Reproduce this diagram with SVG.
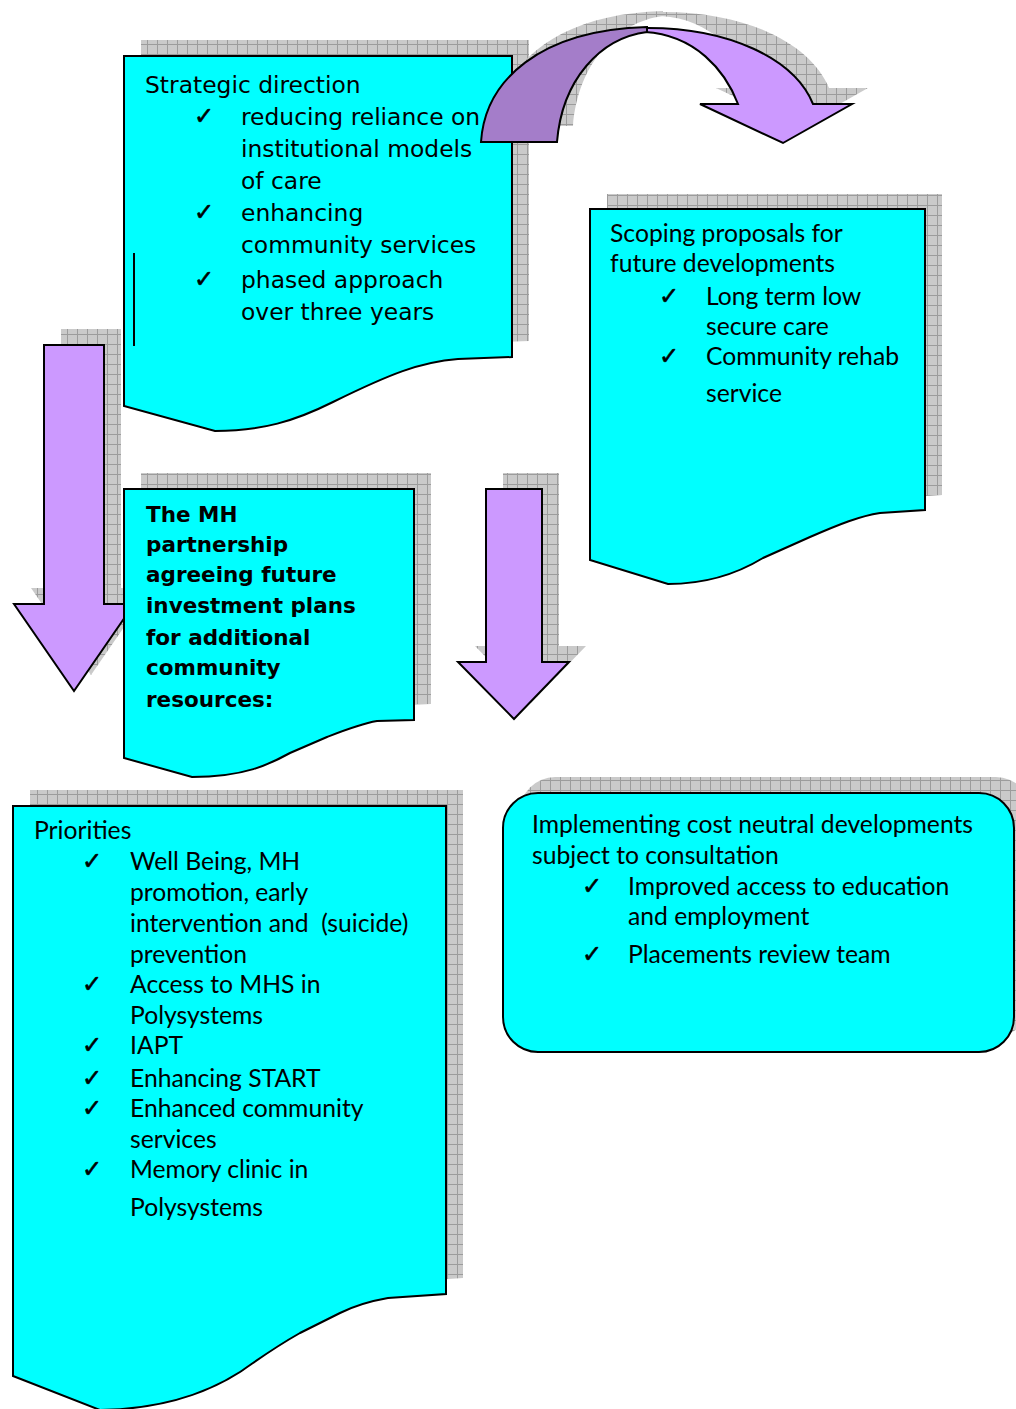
<svg xmlns="http://www.w3.org/2000/svg" xmlns:xlink="http://www.w3.org/1999/xlink" width="1016" height="1409" viewBox="0 0 1016 1409">
<defs>
  <pattern id="grid" patternUnits="userSpaceOnUse" width="10" height="10">
    <rect width="10" height="10" fill="#cacaca"/>
    <path d="M0,0.5 H10 M0.5,0 V10" stroke="#9c9c9c" stroke-width="1" fill="none"/>
  </pattern>
  <style>
    .box { fill: #00FFFF; stroke: #000; stroke-width: 2; stroke-linejoin: miter; }
    .shadow { fill: url(#grid); stroke: none; }
    .arrow { fill: #CC99FF; stroke: #000; stroke-width: 2; stroke-linejoin: miter; }
    .arrowDark { fill: #A47DC9; stroke: #000; stroke-width: 2; }
    .t1 { font-family: "DejaVu Sans", Verdana, sans-serif; font-size: 23.4px; fill: #000; }
    .tb { font-family: "DejaVu Sans", Verdana, sans-serif; font-size: 21.5px; font-weight: bold; fill: #000; }
    .tg { font-family: Lato, "Liberation Sans", sans-serif; font-size: 24.7px; fill: #000; }
    .ck { font-family: "DejaVu Sans", sans-serif; font-size: 24px; fill: #000; stroke: #000; stroke-width: 0.6; }
  </style>
  <path id="p-box1" d="M124,56 H512 V357 L458,359 C420,362 390,374 333,402 C295,421 262,431 215,431 L124,406 Z"/>
  <path id="p-box2" d="M590,209 H925 V510 L880,513 C860,516 840,524 810,537 L763,558 C740,572 710,584 668,584 L590,560 Z"/>
  <path id="p-box3" d="M124,489 H414 V720 L377,721 C360,724 345,730 327,737 L290,753 C270,764 245,777 192,777 L124,758 Z"/>
  <path id="p-box4" d="M13,806 H446 V1294 L388,1298 C365,1302 350,1308 340,1313 L300,1333 C270,1350 255,1362 240,1372 C215,1388 170,1409 100,1410 L13,1376 Z"/>
  <path id="p-arrow1" d="M44,345 H104 V604 H134 L74,691 L14,604 H44 Z"/>
  <path id="p-arrow2" d="M486,489 H542 V662 H569 L514,719 L458,662 H486 Z"/>
  <path id="p-curveLight" d="M640,28 C730,26 795,60 813,104 L852,104 L783,143 L700,104 L738,104 C725,70 695,35 645,32 Z"/>
  <path id="p-curveDark" d="M481,142 C485,80 540,30 647,27 L647,32 C600,38 562,80 557,142 Z"/>
</defs>

<g id="node-strategic">
  <use xlink:href="#p-box1" class="shadow" transform="translate(17,-16)"/>
  <use xlink:href="#p-box1" class="box"/>
  <line x1="134" y1="253" x2="134" y2="346" stroke="#000" stroke-width="2"/>
  <text class="t1" x="145" y="93">Strategic direction</text>
  <text class="ck" x="194" y="124">✓</text>
  <text class="t1" x="241" y="125">reducing reliance on</text>
  <text class="t1" x="241" y="157">institutional models</text>
  <text class="t1" x="241" y="189">of care</text>
  <text class="ck" x="194" y="220">✓</text>
  <text class="t1" x="241" y="221">enhancing</text>
  <text class="t1" x="241" y="253">community services</text>
  <text class="ck" x="194" y="287">✓</text>
  <text class="t1" x="241" y="288">phased approach</text>
  <text class="t1" x="241" y="320">over three years</text>
</g>

<g id="connectors">
  <g id="curved-arrow">
    <g transform="translate(16,-16)">
      <use xlink:href="#p-curveLight" class="shadow"/>
      <use xlink:href="#p-curveDark" class="shadow"/>
    </g>
    <use xlink:href="#p-curveLight" class="arrow"/>
    <use xlink:href="#p-curveDark" class="arrowDark"/>
  </g>
  <g id="arrow-left">
    <use xlink:href="#p-arrow1" class="shadow" transform="translate(17,-16)"/>
    <use xlink:href="#p-arrow1" class="arrow"/>
  </g>
  <g id="arrow-middle">
    <use xlink:href="#p-arrow2" class="shadow" transform="translate(17,-16)"/>
    <use xlink:href="#p-arrow2" class="arrow"/>
  </g>
</g>

<g id="node-scoping">
  <use xlink:href="#p-box2" class="shadow" transform="translate(17,-15)"/>
  <use xlink:href="#p-box2" class="box"/>
  <text class="tg" x="610" y="242">Scoping proposals for</text>
  <text class="tg" x="610" y="272">future developments</text>
  <text class="ck" x="659" y="304">✓</text>
  <text class="tg" x="706" y="305">Long term low</text>
  <text class="tg" x="706" y="335">secure care</text>
  <text class="ck" x="659" y="364">✓</text>
  <text class="tg" x="706" y="365">Community rehab</text>
  <text class="tg" x="706" y="402">service</text>
</g>

<g id="node-partnership">
  <use xlink:href="#p-box3" class="shadow" transform="translate(17,-16)"/>
  <use xlink:href="#p-box3" class="box"/>
  <text class="tb" x="146" y="522">The MH</text>
  <text class="tb" x="146" y="552">partnership</text>
  <text class="tb" x="146" y="582">agreeing future</text>
  <text class="tb" x="146" y="613">investment plans</text>
  <text class="tb" x="146" y="645">for additional</text>
  <text class="tb" x="146" y="675">community</text>
  <text class="tb" x="146" y="707">resources:</text>
</g>

<g id="node-priorities">
  <use xlink:href="#p-box4" class="shadow" transform="translate(17,-16)"/>
  <use xlink:href="#p-box4" class="box"/>
  <text class="tg" x="34" y="839">Priorities</text>
  <text class="ck" x="82" y="869">✓</text>
  <text class="tg" x="130" y="870">Well Being, MH</text>
  <text class="tg" x="130" y="901">promotion, early</text>
  <text class="tg" x="130" y="932" xml:space="preserve">intervention and  (suicide)</text>
  <text class="tg" x="130" y="963">prevention</text>
  <text class="ck" x="82" y="992">✓</text>
  <text class="tg" x="130" y="993">Access to MHS in</text>
  <text class="tg" x="130" y="1024">Polysystems</text>
  <text class="ck" x="82" y="1053">✓</text>
  <text class="tg" x="130" y="1054">IAPT</text>
  <text class="ck" x="82" y="1086">✓</text>
  <text class="tg" x="130" y="1087">Enhancing START</text>
  <text class="ck" x="82" y="1116">✓</text>
  <text class="tg" x="130" y="1117">Enhanced community</text>
  <text class="tg" x="130" y="1148">services</text>
  <text class="ck" x="82" y="1177">✓</text>
  <text class="tg" x="130" y="1178">Memory clinic in</text>
  <text class="tg" x="130" y="1216">Polysystems</text>
</g>

<g id="node-implementing">
  <rect x="520" y="777" width="511" height="259" rx="35" ry="35" class="shadow"/>
  <rect x="503" y="793" width="511" height="259" rx="35" ry="35" class="box"/>
  <text class="tg" x="532" y="833">Implementing cost neutral developments</text>
  <text class="tg" x="532" y="864">subject to consultation</text>
  <text class="ck" x="582" y="894">✓</text>
  <text class="tg" x="628" y="895">Improved access to education</text>
  <text class="tg" x="628" y="925">and employment</text>
  <text class="ck" x="582" y="962">✓</text>
  <text class="tg" x="628" y="963">Placements review team</text>
</g>
</svg>
